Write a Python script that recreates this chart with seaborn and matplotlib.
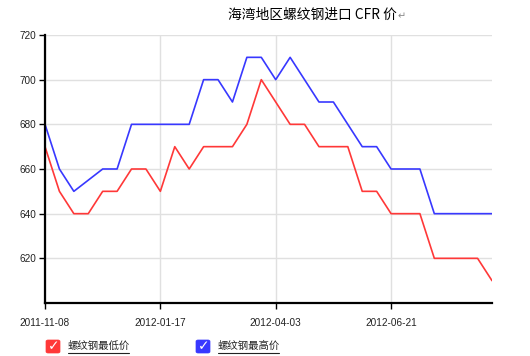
import numpy as np
import pandas as pd
import seaborn as sns
import matplotlib
matplotlib.use("Agg")
import matplotlib.pyplot as plt
from matplotlib.patches import FancyBboxPatch
from matplotlib.lines import Line2D

# ---- data ----
low_prices = [670, 650, 640, 640, 650, 650, 660, 660, 650, 670, 660, 670, 670, 670, 680, 700,
              690, 680, 680, 670, 670, 670, 650, 650, 640, 640, 640, 620, 620, 620, 620, 610]
high_prices = [680, 660, 650, 655, 660, 660, 680, 680, 680, 680, 680, 700, 700, 690, 710, 710,
               700, 710, 700, 690, 690, 680, 670, 670, 660, 660, 660, 640, 640, 640, 640, 640]
series_names = ["螺纹钢最低价", "螺纹钢最高价"]
tick_labels = ["2011-11-08", "2012-01-17", "2012-04-03", "2012-06-21"]
tick_index = [0, 8, 16, 24]
y_ticks = [620, 640, 660, 680, 700, 720]
title = "海湾地区螺纹钢进口 CFR 价"

colors = ["#ff3838", "#3838ff"]

df = pd.DataFrame({
    "idx": list(range(len(low_prices))) * 2,
    "price": low_prices + high_prices,
    "series": [series_names[0]] * len(low_prices) + [series_names[1]] * len(high_prices),
})

sns.set_theme(style="white")
plt.rcParams["font.family"] = ["Liberation Sans", "Noto Sans CJK SC", "DejaVu Sans"]

fig = plt.figure(figsize=(5.30, 3.56), dpi=100)
W, H = 530, 356
ax = fig.add_axes([45 / W, 1 - 303 / H, (492 - 45) / W, (303 - 35) / H])

sns.lineplot(data=df, x="idx", y="price", hue="series", palette=colors,
             linewidth=1.2, ax=ax, legend=False)

ax.set_xlim(0, len(low_prices) - 1)
ax.set_ylim(600, 720)
ax.set_yticks(y_ticks)
ax.set_yticklabels([str(v) for v in y_ticks], fontsize=7.2, color="#222222")
ax.set_xticks(tick_index)
ax.set_xticklabels(tick_labels, fontsize=7.2, color="#222222")
ax.set_xlabel("")
ax.set_ylabel("")
ax.grid(True, color="#e0e0e0", linewidth=1.0)
ax.set_axisbelow(True)
for s in ["top", "right"]:
    ax.spines[s].set_visible(False)
for s in ["left", "bottom"]:
    ax.spines[s].set_color("black")
    ax.spines[s].set_linewidth(1.6)
ax.tick_params(axis="y", length=4, width=1, color="black", pad=2, left=True)
ax.tick_params(axis="x", length=4, width=1, color="black", pad=7, bottom=True)

# title
fig.text(228 / W, 1 - 15 / H, title, fontsize=9.9, family=["Noto Sans CJK SC", "DejaVu Sans"],
         ha="left", va="center", color="black")
fig.text(398 / W, 1 - 16 / H, "↵", fontsize=7, family=["DejaVu Sans"],
         ha="left", va="center", color="#888888")

# legend (checkbox style)
def legend_item(x0, label, color):
    box = FancyBboxPatch((x0 / W, 1 - 353 / H), 14 / W, 13 / H,
                         boxstyle="round,pad=0,rounding_size=0.004",
                         transform=fig.transFigure, facecolor=color, edgecolor=color,
                         linewidth=0.5)
    fig.add_artist(box)
    fig.text((x0 + 7.5) / W, 1 - 346 / H, "✓", fontsize=10, family=["DejaVu Sans"],
             color="white", ha="center", va="center", weight="bold")
    tx = x0 + 22
    fig.text(tx / W, 1 - 346 / H, label, fontsize=7.5,
             family=["Noto Sans CJK SC", "DejaVu Sans"], color="#222222",
             ha="left", va="center")
    fig.add_artist(Line2D([tx / W, (tx + 61) / W], [1 - 352.5 / H, 1 - 352.5 / H],
                          transform=fig.transFigure, color="#222222", linewidth=0.8))

legend_item(46, series_names[0], colors[0])
legend_item(196, series_names[1], colors[1])

fig.savefig("out.png", dpi=100, facecolor="white")
